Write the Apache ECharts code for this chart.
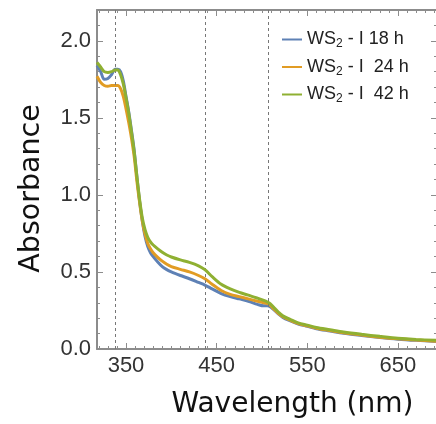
<!DOCTYPE html>
<html>
<head>
<meta charset="utf-8">
<script src="https://cdn.jsdelivr.net/npm/echarts@6/dist/echarts.min.js"></script>
<style>html,body{margin:0;padding:0;background:#fff}#c{width:436px;height:424px}</style>
</head>
<body>
<div id="c"></div>
<script>
// Wavelength (nm)
var wavelengths = [318,322,326,330,334,338,341,344,347,350,353,356,359,362,365,368,371,374,377,380,385,390,395,400,410,420,430,437,445,455,465,475,485,495,502,506,509,513,518,523,530,540,550,560,575,590,610,630,650,670,692];
// Absorbance series
var ws2_18h = [1.84,1.80,1.75,1.755,1.78,1.815,1.815,1.80,1.74,1.64,1.54,1.42,1.29,1.12,0.96,0.83,0.73,0.665,0.625,0.60,0.565,0.535,0.515,0.50,0.477,0.456,0.432,0.415,0.39,0.36,0.34,0.325,0.31,0.29,0.28,0.28,0.275,0.255,0.228,0.205,0.185,0.162,0.147,0.132,0.117,0.102,0.088,0.075,0.064,0.056,0.049];
var ws2_24h = [1.77,1.73,1.71,1.705,1.71,1.71,1.71,1.69,1.64,1.56,1.47,1.37,1.25,1.09,0.95,0.83,0.745,0.685,0.65,0.625,0.595,0.57,0.55,0.535,0.517,0.50,0.477,0.456,0.42,0.38,0.355,0.34,0.325,0.31,0.30,0.295,0.285,0.26,0.232,0.21,0.19,0.165,0.15,0.135,0.12,0.105,0.09,0.077,0.066,0.058,0.051];
var ws2_42h = [1.86,1.83,1.80,1.795,1.80,1.81,1.81,1.78,1.72,1.63,1.53,1.41,1.28,1.12,0.97,0.85,0.775,0.725,0.695,0.675,0.65,0.628,0.61,0.597,0.578,0.562,0.54,0.515,0.47,0.42,0.39,0.367,0.35,0.33,0.315,0.305,0.295,0.27,0.24,0.215,0.195,0.17,0.155,0.14,0.125,0.11,0.095,0.082,0.07,0.062,0.056];
var seriesNames = ['WS2 - I 18 h', 'WS2 - I  24 h', 'WS2 - I  42 h'];
var colors = ['#5E81B5', '#E19C24', '#8FB032'];
// Reference (dashed) wavelengths
var refLines = [338, 437, 507];
// Ticks
var xMajorTicks = [350, 450, 550, 650];
var xMinorTicks = [320,330,340,360,370,380,390,400,410,420,430,440,460,470,480,490,500,510,520,530,540,560,570,580,590,600,610,620,630,640,660,670,680,690];
var yMajorTicks = [0, 0.5, 1.0, 1.5, 2.0];
var yMinorTicks = [0.1,0.2,0.3,0.4,0.6,0.7,0.8,0.9,1.1,1.2,1.3,1.4,1.6,1.7,1.8,1.9,2.1];
var xMin = 318, xMax = 692, yMin = 0, yMax = 2.2;

var frameColor = '#8c8c8c';
function pairs(ys) { return wavelengths.map(function (w, i) { return [w, ys[i]]; }); }

function xAx(pos, ticks, len, showLine, showLabel) {
  var a = {
    type: 'value', position: pos, min: xMin, max: xMax,
    axisLine: { show: showLine, onZero: false, lineStyle: { color: frameColor, width: 2 } },
    axisTick: { show: true, inside: true, length: len, customValues: ticks, lineStyle: { color: frameColor, width: 1 } },
    splitLine: { show: false },
    axisLabel: { show: false }
  };
  if (showLabel) {
    a.axisLabel = { show: true, customValues: ticks, margin: 6, color: '#333', fontFamily: 'Liberation Sans', fontSize: 22 };
    a.name = 'Wavelength (nm)';
    a.nameLocation = 'middle';
    a.nameGap = 42;
    a.nameTextStyle = { fontFamily: 'DejaVu Sans', fontSize: 28, color: '#111', padding: [0, 0, 0, 52] };
  }
  return a;
}
function yAx(pos, ticks, len, showLine, showLabel, offset) {
  var a = {
    type: 'value', position: pos, min: yMin, max: yMax, offset: offset || 0,
    axisLine: { show: showLine, onZero: false, lineStyle: { color: frameColor, width: 2 } },
    axisTick: { show: true, inside: true, length: len, customValues: ticks, lineStyle: { color: frameColor, width: 1 } },
    splitLine: { show: false },
    axisLabel: { show: false }
  };
  if (showLabel) {
    a.axisLabel = { show: true, customValues: ticks, margin: 6, color: '#333', fontFamily: 'Liberation Sans', fontSize: 22,
      formatter: function (v) { return v.toFixed(1); } };
    a.name = 'Absorbance';
    a.nameLocation = 'middle';
    a.nameGap = 51;
    a.nameTextStyle = { fontFamily: 'DejaVu Sans', fontSize: 28.5, color: '#111', padding: [0, 18, 0, 0] };
  }
  return a;
}

var chart = echarts.init(document.getElementById('c'), null, { renderer: 'canvas' });
var series = [ws2_18h, ws2_24h, ws2_42h].map(function (d, i) {
  return {
    name: seriesNames[i], type: 'line', data: pairs(d), xAxisIndex: 0, yAxisIndex: 0,
    showSymbol: false, symbol: 'none', smooth: 0.3, clip: true,
    lineStyle: { color: colors[i], width: 3 }, itemStyle: { color: colors[i] },
    z: 3 + i
  };
});
series.unshift({
  name: 'ref', type: 'line', data: [], xAxisIndex: 0, yAxisIndex: 0, silent: true, z: 2,
  markLine: {
    silent: true, symbol: ['none', 'none'], label: { show: false },
    lineStyle: { color: '#777', width: 1, type: [3, 3] },
    data: refLines.map(function (v) { return { xAxis: v }; })
  }
});

chart.setOption({
  animation: false,
  backgroundColor: '#fff',
  grid: { left: 97, top: 10, right: 0, height: 343, containLabel: false },
  xAxis: [
    xAx('bottom', xMajorTicks, 6, true, true),
    xAx('bottom', xMinorTicks, 3, false, false),
    xAx('top', xMajorTicks, 6, true, false),
    xAx('top', xMinorTicks, 3, false, false)
  ],
  yAxis: [
    yAx('left', yMajorTicks, 6, true, true),
    yAx('left', yMinorTicks, 3, false, false),
    yAx('right', yMajorTicks, 9, true, false, 4),
    yAx('right', yMinorTicks, 6, false, false, 4)
  ],
  legend: {
    data: seriesNames, orient: 'vertical', left: 277, top: 24,
    itemWidth: 20, itemHeight: 12, itemGap: 6.5,
    icon: 'path://M0,5 L20,5 L20,7 L0,7 Z',
    textStyle: {
      fontFamily: 'Liberation Sans', fontSize: 18, color: '#222', lineHeight: 20,
      rich: { s: { fontSize: 12, fontFamily: 'Liberation Sans', color: '#222', padding: [9, 0, 0, 0], lineHeight: 12 } }
    },
    formatter: function (n) { return n.replace('WS2', 'WS{s|2}'); }
  },
  series: series
});
</script>
</body>
</html>
